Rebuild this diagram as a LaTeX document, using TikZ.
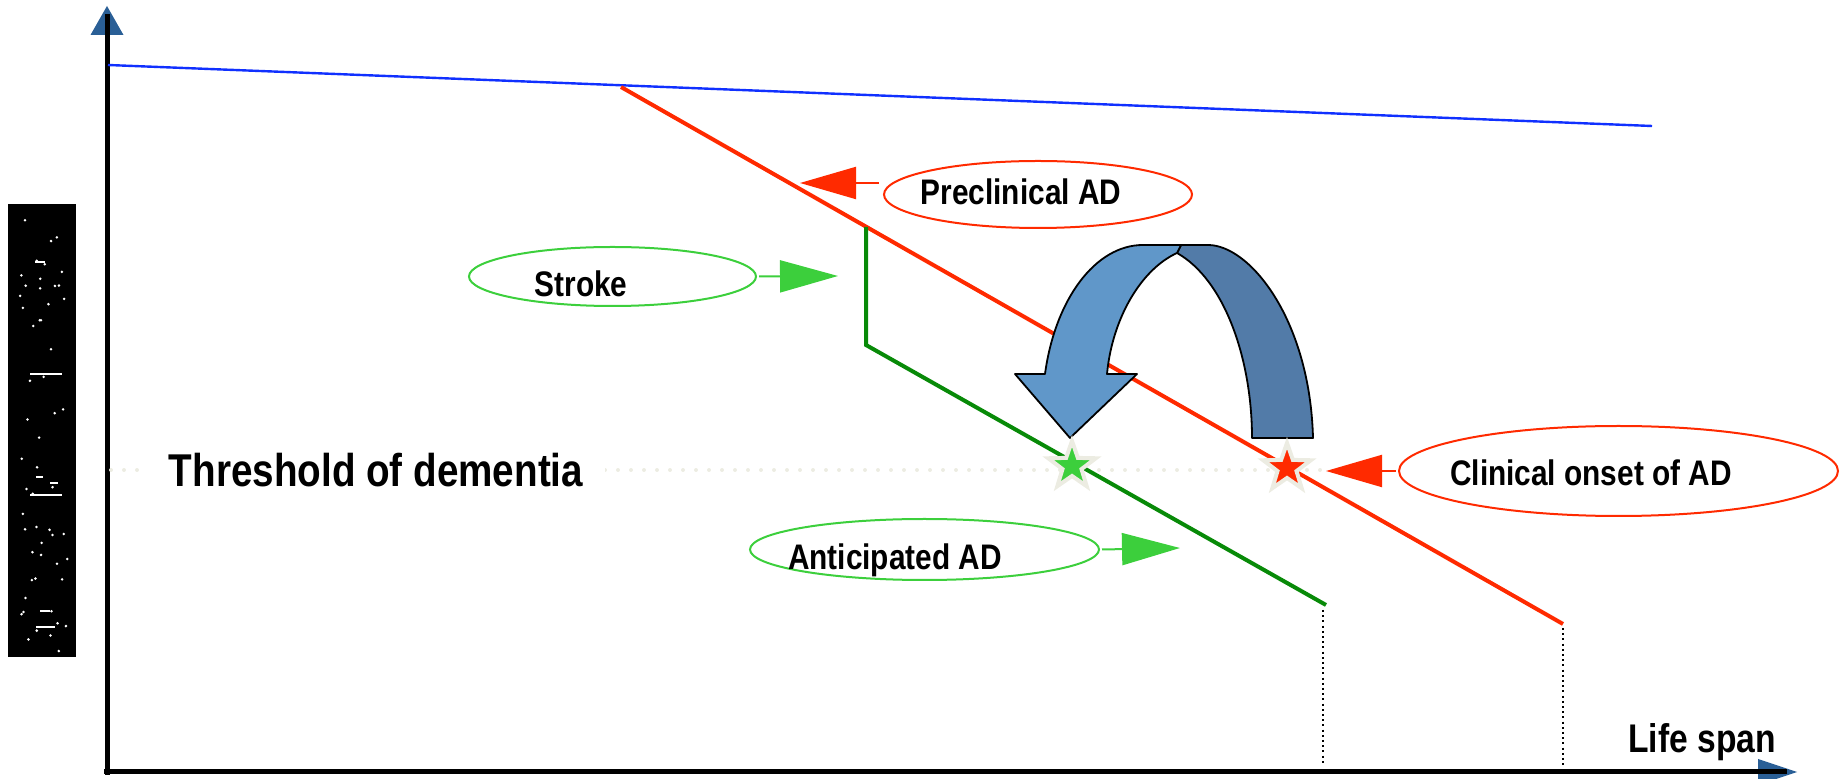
\documentclass[tikz,border=0pt]{standalone}
\usepackage{fontspec}
\newfontfamily\lblfont{Liberation Sans}[FakeStretch=0.84]
\usetikzlibrary{arrows.meta,shapes.geometric}
\definecolor{adred}{HTML}{FF2A00}
\definecolor{lgreen}{HTML}{3CCF3C}
\definecolor{dgreen}{HTML}{088A08}
\definecolor{lineblue}{HTML}{1030FF}
\definecolor{axblue}{HTML}{2A5F96}
\definecolor{arlight}{HTML}{6097C9}
\definecolor{ardark}{HTML}{527BA8}
\definecolor{halo}{HTML}{ECECE2}
\tikzset{
  axis/.style={line width=2.5pt},
  redell/.style={ellipse, draw=adred, line width=1pt, inner sep=0pt},
  greenell/.style={ellipse, draw=lgreen, line width=1pt, inner sep=0pt},
  redarr/.style={draw=adred, fill=adred, line width=1pt, -{Triangle[length=28pt,width=16pt]}},
  greenarr/.style={draw=lgreen, fill=lgreen, line width=1pt, -{Triangle[length=29pt,width=16pt]}},
  lbl/.style={anchor=base, inner sep=0pt, font=\lblfont\bfseries\fontsize{17.75}{20}\selectfont},
  onset/.style={star, star points=5, star point ratio=2.5, minimum size=25pt, inner sep=0pt, draw=halo, line width=2pt}
}
\begin{document}
\begin{tikzpicture}[x=0.5pt,y=-0.5pt]
\useasboundingbox (0,0) rectangle (1847,779);
\fill[black] (8,204) rectangle (76,657);
\pgfmathsetseed{7}
\foreach \i in {1,...,55} {
  \pgfmathsetmacro{\rx}{20+48*rnd}
  \pgfmathsetmacro{\ry}{212+440*rnd}
  \fill[white] (\rx,\ry) circle (0.7pt);
}
\foreach \xa/\xb/\yy in {30/62/374, 30/62/495, 36/43/477, 50/58/483, 35/45/262, 40/50/611, 36/55/627} {
  \draw[white, line width=1pt] (\xa,\yy) -- (\xb,\yy);
}

\fill[axblue] (107,6) -- (123.5,35) -- (90.5,35) -- cycle;
\fill[axblue] (1797,772) -- (1758,759) -- (1758,785) -- cycle;
\draw[axis] (107,775) -- (107,14);
\draw[axis] (104,772) -- (1787,772);
\node[lbl, font=\lblfont\bfseries\fontsize{20}{22}\selectfont] (life) at (1702,753) {Life span};

\draw[halo, line width=2pt, line cap=round, dash pattern=on 0pt off 6.5pt] (111,470) -- (1323,470);
\node[lbl, fill=white, inner xsep=11pt, inner ysep=2pt, font=\lblfont\bfseries\fontsize{23}{26}\selectfont] (thr) at (376,487) {Threshold of dementia};

\coordinate (b0) at (108,65);
\coordinate (b1) at (1652,126);
\draw[lineblue, line width=1.2pt] (b0) -- (b1);

\coordinate (r0) at (621,87);
\coordinate (r1) at (1563,624);
\draw[adred, line width=2pt] (r0) -- (r1);
\coordinate (g0) at (866,227);
\coordinate (g1) at (866,345);
\coordinate (g2) at (1326,605);
\draw[dgreen, line width=2pt] (g0) -- (g1) -- (g2);
\draw[line width=1pt, dash pattern=on 1pt off 1.6pt] (1323,610) -- (1323,763);
\draw[line width=1pt, dash pattern=on 1pt off 1.6pt] (1563,628) -- (1563,767);

\node[redell, minimum width=154pt, minimum height=33.5pt] (pre) at (1038,194.5) {};
\node[lbl] (pretxt) at (1021,205) {Preclinical AD};
\coordinate (preA) at (800,183);
\draw[redarr] ([xshift=-2pt]pre.west |- preA) -- (preA);

\node[greenell, minimum width=143.5pt, minimum height=29.5pt] (stroke) at (612.5,276.5) {};
\node[lbl] (stroketxt) at (581,297) {Stroke};
\coordinate (strokeA) at (838,276);
\draw[greenarr] ([xshift=1pt]stroke.east) -- (strokeA);

\node[redell, minimum width=219.5pt, minimum height=45pt] (clin) at (1618.5,471) {};
\node[lbl] (clintxt) at (1591,486) {Clinical onset of AD};
\coordinate (clinA) at (1326,471);
\draw[redarr] ([xshift=-1pt]clin.west) -- (clinA);

\node[greenell, minimum width=174.5pt, minimum height=30.5pt] (antic) at (924.5,549.5) {};
\node[lbl] (antictxt) at (895,570) {Anticipated AD};
\coordinate (anticA) at (1180,548);
\draw[greenarr] ([xshift=1pt]antic.east) -- (anticA);

\draw[fill=ardark, line width=0.9pt, line join=round]
  (1181,245) -- (1208,245) .. controls (1250,245) and (1310,320) .. (1313,438)
  -- (1252,438) .. controls (1252,360) and (1225,280) .. (1177,253) -- cycle;
\draw[fill=arlight, line width=0.9pt, line join=round]
  (1070,438) -- (1137,374) -- (1107,374) .. controls (1112,320) and (1140,270) .. (1177,253)
  -- (1181,245) -- (1143,245) .. controls (1095,245) and (1055,300) .. (1045,374)
  -- (1015,374) -- cycle;

\node[onset, fill=lgreen] (gstar) at (1072,466) {};
\node[onset, fill=adred] (rstar) at (1287,468) {};
\end{tikzpicture}
\end{document}
